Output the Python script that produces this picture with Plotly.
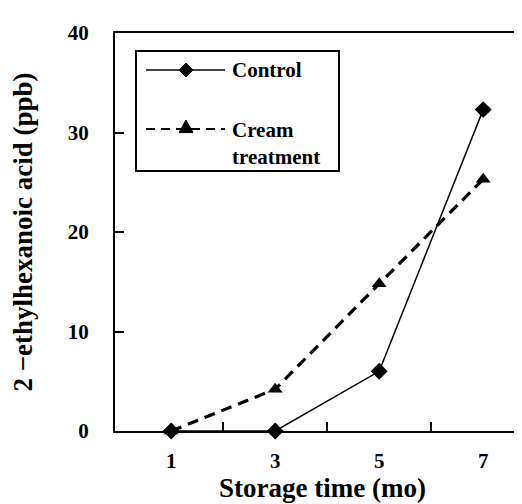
import plotly.graph_objects as go

months = [1, 3, 5, 7]
control = [0, 0, 6.0, 32.3]
cream = [0, 4.2, 14.8, 25.3]
x_labels = ["1", "3", "5", "7"]
y_ticks = [0, 10, 20, 30, 40]
legend_texts = ["Control", "Cream<br>treatment"]

W, H = 522, 504
L, R, T, B = 107, 0, 25, 81
FONT = "Liberation Serif"

def px(xp):
    return (xp - L) / (W - L - R)

def py(yp):
    return (H - B - yp) / (H - T - B)

fig = go.Figure()
fig.add_trace(go.Scatter(
    x=months, y=control, mode="lines+markers", name="Control",
    line=dict(color="black", width=1.5),
    marker=dict(symbol="diamond", size=13, color="black"),
    cliponaxis=False, showlegend=False))
fig.add_trace(go.Scatter(
    x=months, y=cream, mode="lines+markers", name="Cream treatment",
    line=dict(color="black", width=3.2, dash="11px,7px"),
    marker=dict(symbol="triangle-up", size=13, color="black"),
    cliponaxis=False, showlegend=False))

# manual legend
shapes = [dict(type="rect", xref="paper", yref="paper",
               x0=px(128), x1=px(331), y0=py(43), y1=py(163),
               line=dict(color="black", width=2), fillcolor="white")]
shapes.append(dict(type="line", xref="paper", yref="paper",
                   x0=px(138), x1=px(217), y0=py(62), y1=py(62),
                   line=dict(color="black", width=1.5)))
shapes.append(dict(type="line", xref="paper", yref="paper",
                   x0=px(138), x1=px(217), y0=py(121), y1=py(121),
                   line=dict(color="black", width=2.2, dash="9px,6px")))

def diamond(cx, cy, r):
    return (f"M {px(cx)} {py(cy - r)} L {px(cx + r)} {py(cy)} "
            f"L {px(cx)} {py(cy + r)} L {px(cx - r)} {py(cy)} Z")

def triangle(cx, cy, r):
    return (f"M {px(cx)} {py(cy - r)} L {px(cx + r)} {py(cy + r * 0.8)} "
            f"L {px(cx - r)} {py(cy + r * 0.8)} Z")

shapes.append(dict(type="path", xref="paper", yref="paper",
                   path=diamond(178, 62, 7), fillcolor="black",
                   line=dict(color="black", width=1)))
shapes.append(dict(type="path", xref="paper", yref="paper",
                   path=triangle(178, 119, 7), fillcolor="black",
                   line=dict(color="black", width=1)))

leg_font = dict(family=FONT, size=21, color="black", weight="bold")
annotations = [
    dict(xref="paper", yref="paper", x=px(222), y=py(62), text=legend_texts[0],
         showarrow=False, xanchor="left", yanchor="middle", font=leg_font),
    dict(xref="paper", yref="paper", x=px(222), y=py(135), text=legend_texts[1],
         showarrow=False, xanchor="left", yanchor="middle", align="left",
         font=leg_font),
]

fig.update_layout(
    width=W, height=H,
    margin=dict(l=L, r=R, t=T, b=B, pad=0, autoexpand=False),
    paper_bgcolor="white", plot_bgcolor="white",
    shapes=shapes, annotations=annotations,
    font=dict(family=FONT, color="black"),
    xaxis=dict(
        range=[-0.08, 7.9], tickvals=months, ticktext=x_labels,
        ticks="", showgrid=False, zeroline=False, automargin=False,
        showline=True, linecolor="black", linewidth=2, mirror=True,
        tickfont=dict(family=FONT, size=21, color="black", weight="bold"),
        ticklabelstandoff=10,
        minor=dict(tickvals=[2, 4, 6], ticks="inside", ticklen=9,
                   tickwidth=2, tickcolor="black", showgrid=False),
        title=dict(text="Storage time (mo)", standoff=6,
                   font=dict(family=FONT, size=27, color="black", weight="bold")),
    ),
    yaxis=dict(
        range=[0, 40], tickvals=y_ticks, automargin=False,
        ticks="inside", ticklen=9, tickwidth=2, tickcolor="black",
        showgrid=False, zeroline=False,
        showline=True, linecolor="black", linewidth=2,
        tickfont=dict(family=FONT, size=21, color="black", weight="bold"),
        ticklabelstandoff=20,
        title=dict(text="2 \u2212ethylhexanoic acid (ppb)", standoff=29,
                   font=dict(family=FONT, size=27, color="black", weight="bold")),
    ),
)

fig.write_html("out.html")
